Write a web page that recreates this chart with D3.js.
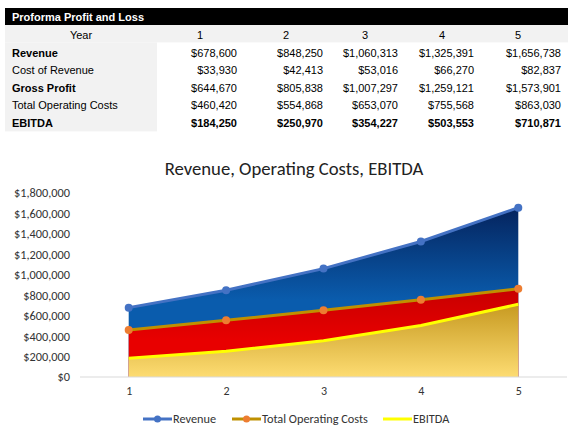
<!DOCTYPE html>
<html>
<head>
<meta charset="utf-8">
<script src="https://cdn.jsdelivr.net/npm/d3@7"></script>
<style>
  body { margin: 0; background: #fff; }
  svg { display: block; }
</style>
</head>
<body>
<svg id="chart" width="576" height="441"></svg>
<script>
// table + chart values
const years = [1, 2, 3, 4, 5];
const rowLabels = ['Revenue', 'Cost of Revenue', 'Gross Profit', 'Total Operating Costs', 'EBITDA'];
const boldRows = ['Revenue', 'Gross Profit', 'EBITDA'];
const revenue = [678600, 848250, 1060313, 1325391, 1656738];
const costOfRevenue = [33930, 42413, 53016, 66270, 82837];
const grossProfit = [644670, 805838, 1007297, 1259121, 1573901];
const operatingCosts = [460420, 554868, 653070, 755568, 863030];
const ebitda = [184250, 250970, 354227, 503553, 710871];
const yTicks = [0, 200000, 400000, 600000, 800000, 1000000, 1200000, 1400000, 1600000, 1800000];

const tableRows = [revenue, costOfRevenue, grossProfit, operatingCosts, ebitda];
const money = d3.format('$,.0f');

const svg = d3.select('#chart');

// ---- table ----
const tbl = svg.append('g').attr('font-family', 'Liberation Sans, Arial, sans-serif').attr('font-size', 11);
const rowH = 17.4;
const tblTop = 8;
const colRight = [237, 323, 398, 474, 561];
const colCenter = [200, 286, 365, 442, 518];

tbl.append('rect').attr('x', 5).attr('y', tblTop).attr('width', 563).attr('height', 17).attr('fill', '#000');
tbl.append('text').attr('x', 12).attr('y', tblTop + 12.5).attr('fill', '#fff').attr('font-weight', 'bold')
  .text('Proforma Profit and Loss');

// year row grey across, label column grey down
tbl.append('rect').attr('x', 5).attr('y', tblTop + 17).attr('width', 563).attr('height', rowH).attr('fill', '#f2f2f2');
tbl.append('rect').attr('x', 5).attr('y', tblTop + 17 + rowH).attr('width', 152).attr('height', rowH * 5 + 2).attr('fill', '#f2f2f2');

tbl.append('text').attr('x', 81).attr('y', tblTop + 17 + 14).attr('text-anchor', 'middle').text('Year');
years.forEach((y, i) => {
  tbl.append('text').attr('x', colCenter[i]).attr('y', tblTop + 17 + 14).attr('text-anchor', 'middle').text(y);
});

rowLabels.forEach((lab, r) => {
  const yy = tblTop + 17 + rowH * (r + 1) + 14.5;
  const bold = boldRows.includes(lab) ? 'bold' : 'normal';
  tbl.append('text').attr('x', 12).attr('y', yy).attr('font-weight', bold).text(lab);
  tableRows[r].forEach((v, i) => {
    tbl.append('text').attr('x', colRight[i]).attr('y', yy).attr('text-anchor', 'end')
      .attr('font-weight', lab === 'EBITDA' ? 'bold' : 'normal').text(money(v));
  });
});

// ---- chart ----
const chartFont = 'Carlito, "Open Sans", "Noto Sans", sans-serif';
svg.append('text').attr('x', 294).attr('y', 175).attr('text-anchor', 'middle')
  .attr('font-family', chartFont).attr('font-size', 18.7).attr('fill', '#222')
  .text('Revenue, Operating Costs, EBITDA');

const x = d3.scalePoint().domain(years).range([80, 567]).padding(0.5);
const y = d3.scaleLinear().domain([0, 1800000]).range([377, 193]);

const defs = svg.append('defs');
function grad(id, stops) {
  const g = defs.append('linearGradient').attr('id', id)
    .attr('gradientUnits', 'userSpaceOnUse')
    .attr('x1', 0).attr('x2', 0).attr('y1', stops[0][0]).attr('y2', stops[stops.length - 1][0]);
  stops.forEach(s => g.append('stop').attr('offset', (s[0] - stops[0][0]) / (stops[stops.length - 1][0] - stops[0][0])).attr('stop-color', s[1]));
}
grad('gBlue', [[208, '#05245e'], [300, '#0a5cad']]);
grad('gRed', [[290, '#c80000'], [340, '#e80000']]);
grad('gGold', [[300, '#c4961c'], [377, '#fddc72']]);

const seriesList = [
  { name: 'Revenue', values: revenue, fill: 'url(#gBlue)', line: '#4472c4', marker: '#4472c4' },
  { name: 'Total Operating Costs', values: operatingCosts, fill: 'url(#gRed)', line: '#bf9000', marker: '#ed7d31' },
  { name: 'EBITDA', values: ebitda, fill: 'url(#gGold)', line: '#ffff00', marker: null }
];

const plot = svg.append('g');
seriesList.forEach(s => {
  const pts = s.values.map((v, i) => [years[i], v]);
  const area = d3.area().x(d => x(d[0])).y0(y(0)).y1(d => y(d[1]));
  plot.append('path').datum(pts).attr('d', area).attr('fill', s.fill);
});

// axis
const xAxis = svg.append('g').attr('transform', `translate(0,${y(0)})`)
  .call(d3.axisBottom(x).tickSize(0).tickPadding(9));
xAxis.select('.domain').attr('d', 'M80,0H567').attr('stroke', '#d9d9d9');
xAxis.selectAll('text').attr('font-family', chartFont).attr('font-size', 12).attr('fill', '#333');

const yAxis = svg.append('g').attr('transform', 'translate(70,0)')
  .call(d3.axisLeft(y).tickValues(yTicks).tickFormat(money).tickSize(0).tickPadding(0));
yAxis.select('.domain').remove();
yAxis.selectAll('text').attr('font-family', chartFont).attr('font-size', 12.3).attr('fill', '#333');

seriesList.forEach(s => {
  const pts = s.values.map((v, i) => [years[i], v]);
  const line = d3.line().x(d => x(d[0])).y(d => y(d[1]));
  plot.append('path').datum(pts).attr('d', line).attr('fill', 'none')
    .attr('stroke', s.line).attr('stroke-width', 3);
  if (s.marker) {
    plot.selectAll(null).data(pts).enter().append('circle')
      .attr('cx', d => x(d[0])).attr('cy', d => y(d[1])).attr('r', 4).attr('fill', s.marker);
  }
});

// legend
const legendX = [143, 232, 383];
const legend = svg.append('g').attr('font-family', chartFont).attr('font-size', 12.3).attr('fill', '#333');
seriesList.forEach((s, i) => {
  const lx = legendX[i];
  legend.append('line').attr('x1', lx).attr('x2', lx + 29).attr('y1', 419).attr('y2', 419)
    .attr('stroke', s.line).attr('stroke-width', 3);
  if (s.marker) legend.append('circle').attr('cx', lx + 14.5).attr('cy', 419).attr('r', 3.5).attr('fill', s.marker);
  legend.append('text').attr('x', lx + 30).attr('y', 423).text(s.name);
});
</script>
</body>
</html>
